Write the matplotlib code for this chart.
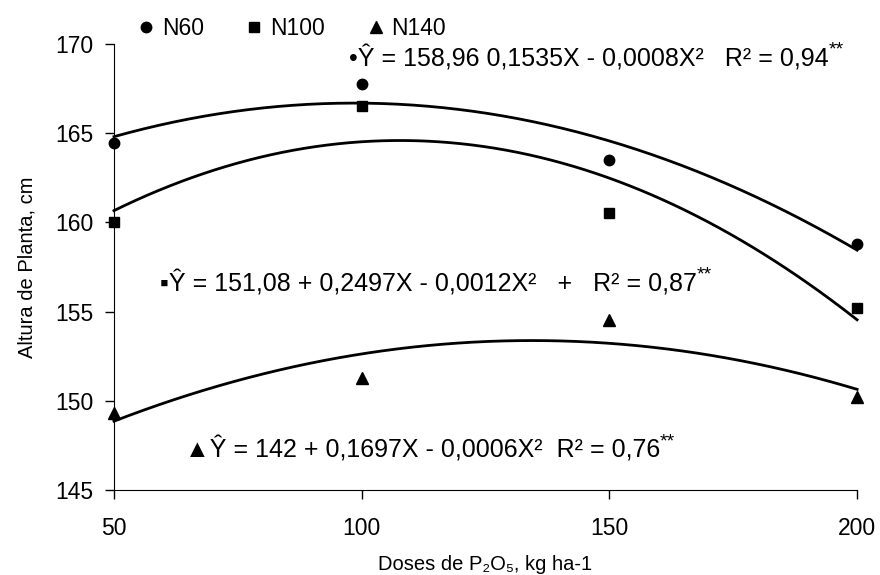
import numpy as np
import matplotlib
matplotlib.use("Agg")
import matplotlib.pyplot as plt

plt.rcParams['font.family'] = ['Liberation Sans', 'DejaVu Sans']

# doses de P2O5 (kg/ha)
doses = [50, 100, 150, 200]

# altura de planta (cm)
n60 = [164.45, 167.75, 163.5, 158.8]
n100 = [160.0, 166.5, 160.5, 155.2]
n140 = [149.3, 151.3, 154.55, 150.2]

series_names = ['N60', 'N100', 'N140']
markers = ['o', 's', '^']
msizes = [7.5, 6.5, 8]

equations = [
    "\u2022\u0176 = 158,96 0,1535X - 0,0008X\u00b2   R\u00b2 = 0,94",
    "\u25aa\u0176 = 151,08 + 0,2497X - 0,0012X\u00b2   +   R\u00b2 = 0,87",
    "\u25b2\u0176 = 142 + 0,1697X - 0,0006X\u00b2  R\u00b2 = 0,76",
]
eq_pos = [(97.5, 169.2), (59.3, 156.6), (64.3, 147.25)]

xticks = [50, 100, 150, 200]
yticks = [145, 150, 155, 160, 165, 170]

fig = plt.figure(figsize=(8.8, 5.75), dpi=100)
ax = fig.add_axes([0.1295, 0.1478, 0.9740 - 0.1295, 0.9235 - 0.1478])

xx = np.linspace(doses[0], doses[-1], 200)
for vals, name, m, ms in zip([n60, n100, n140], series_names, markers, msizes):
    coef = np.polyfit(doses, vals, 2)
    ax.plot(xx, np.polyval(coef, xx), color='black', lw=2, clip_on=False)
    ax.plot(doses, vals, linestyle='none', marker=m, ms=ms, color='black',
            label=name, clip_on=False, zorder=5)

for txt, (px, py) in zip(equations, eq_pos):
    t = ax.text(px, py, txt, ha='left', va='center', fontsize=18)
    ax.annotate('**', xy=(1.0, 0.8), xycoords=t, ha='left', va='center',
                fontsize=14)

ax.set_xlim(50, 200)
ax.set_ylim(145, 170)
ax.set_xticks(xticks)
ax.set_yticks(yticks)
ax.spines['top'].set_visible(False)
ax.spines['right'].set_visible(False)
ax.tick_params(axis='both', direction='out', length=6.5, width=1, labelsize=16.5)
ax.tick_params(axis='x', pad=13)
ax.tick_params(axis='y', pad=8)

ax.set_ylabel('Altura de Planta, cm', fontsize=14.5, labelpad=14)
ax.set_xlabel('Doses de P\u2082O\u2085, kg ha-1', fontsize=14.5, labelpad=11)

ax.legend(loc='center left', bbox_to_anchor=(0.158, 0.95),
          bbox_transform=fig.transFigure, ncol=3, frameon=False,
          fontsize=16.5, handlelength=0.6, handletextpad=0.4,
          columnspacing=1.9, borderpad=0, borderaxespad=0)

fig.savefig('out.png', dpi=100)
